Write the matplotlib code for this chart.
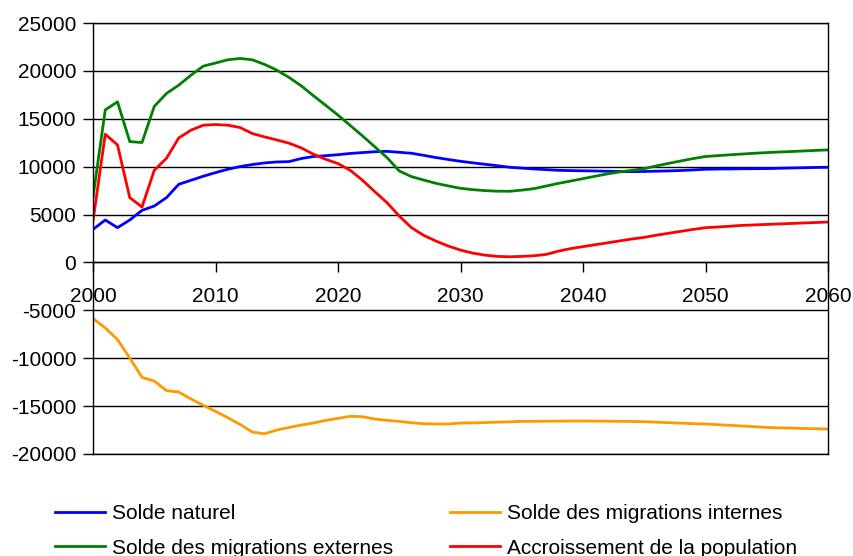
import matplotlib
matplotlib.use("Agg")
import matplotlib.pyplot as plt

plt.rcParams['font.family'] = ['Liberation Sans', 'DejaVu Sans']
plt.rcParams['axes.unicode_minus'] = False

years = list(range(2000, 2061))

solde_naturel = [
    3450, 4430, 3630, 4430, 5440, 5890, 6770, 8160, 8580, 9000,
    9380, 9730, 10010, 10220, 10390, 10490, 10530, 10850, 11060, 11150,
    11250, 11380, 11470, 11560, 11600, 11500, 11400, 11180, 10950, 10750,
    10560, 10400, 10250, 10100, 9940, 9850, 9760, 9690, 9620, 9590,
    9570, 9550, 9520, 9500, 9480, 9500, 9530, 9560, 9600, 9660,
    9730, 9750, 9760, 9780, 9790, 9800, 9830, 9860, 9890, 9920,
    9940,
]

migr_internes = [
    -5860, -6830, -8050, -9970, -12000, -12380, -13390, -13530, -14260, -14920,
    -15550, -16210, -16910, -17710, -17890, -17500, -17230, -16980, -16770, -16490,
    -16280, -16070, -16110, -16350, -16490, -16600, -16740, -16840, -16870, -16870,
    -16770, -16750, -16720, -16680, -16640, -16600, -16590, -16580, -16570, -16560,
    -16560, -16570, -16580, -16590, -16610, -16630, -16680, -16730, -16780, -16830,
    -16870, -16940, -17010, -17080, -17150, -17230, -17270, -17300, -17340, -17370,
    -17400,
]

migr_externes = [
    6800, 15930, 16770, 12620, 12520, 16290, 17650, 18510, 19560, 20500,
    20820, 21160, 21300, 21160, 20680, 20080, 19320, 18440, 17400, 16400,
    15380, 14300, 13210, 12080, 10950, 9550, 8960, 8600, 8260, 7990,
    7740, 7600, 7500, 7440, 7430, 7550, 7710, 7980, 8260, 8500,
    8750, 9000, 9250, 9450, 9620, 9800, 10080, 10350, 10600, 10850,
    11060, 11150, 11240, 11320, 11400, 11470, 11530, 11580, 11640, 11700,
    11750,
]

accroissement = [
    4320, 13390, 12270, 6770, 5790, 9620, 10880, 13000, 13810, 14330,
    14400, 14330, 14090, 13460, 13110, 12790, 12450, 11960, 11300, 10770,
    10320, 9620, 8580, 7390, 6240, 4840, 3630, 2820, 2230, 1710,
    1290, 970, 760, 630, 590, 630, 700, 840, 1180, 1450,
    1650, 1850, 2050, 2250, 2450, 2620, 2850, 3050, 3250, 3450,
    3630, 3700, 3780, 3870, 3920, 3970, 4020, 4070, 4120, 4170,
    4220,
]

fig = plt.figure(figsize=(8.54, 5.56), dpi=100)
ax = fig.add_axes([0.1089, 0.1835, 0.8607, 0.7751])

lw = 2.0
l1, = ax.plot(years, solde_naturel, color='#0000ff', lw=lw, label='Solde naturel')
l2, = ax.plot(years, migr_externes, color='#008000', lw=lw, label='Solde des migrations externes')
l3, = ax.plot(years, migr_internes, color='#ff9900', lw=lw, label='Solde des migrations internes')
l4, = ax.plot(years, accroissement, color='#ff0000', lw=lw, label='Accroissement de la population')

ax.set_xlim(2000, 2060)
ax.set_ylim(-20000, 25000)
ax.set_xticks(range(2000, 2061, 10))
ax.set_yticks(range(-20000, 25001, 5000))
ax.yaxis.grid(True, color='black', lw=1)
ax.set_axisbelow(True)

# x axis sits on the zero line, frame closed by the -20000 line
ax.spines['bottom'].set_position(('data', 0))
for s in ['left', 'right', 'top', 'bottom']:
    ax.spines[s].set_color('black')
    ax.spines[s].set_linewidth(1)
ax.axhline(-20000, color='black', lw=1, clip_on=False)

ax.tick_params(axis='y', direction='out', length=7, width=1, labelsize=15, pad=5)
ax.tick_params(axis='x', direction='out', length=7, width=1, labelsize=15, pad=11)

fig.legend(handles=[l1, l2, l3, l4], ncol=2, loc='upper left',
           bbox_to_anchor=(0.064, 0.0936), frameon=False, fontsize=15,
           handlelength=2.4, handletextpad=0.35, columnspacing=2.74,
           labelspacing=0.75, borderaxespad=0, borderpad=0)

fig.savefig('out.png', dpi=100)
